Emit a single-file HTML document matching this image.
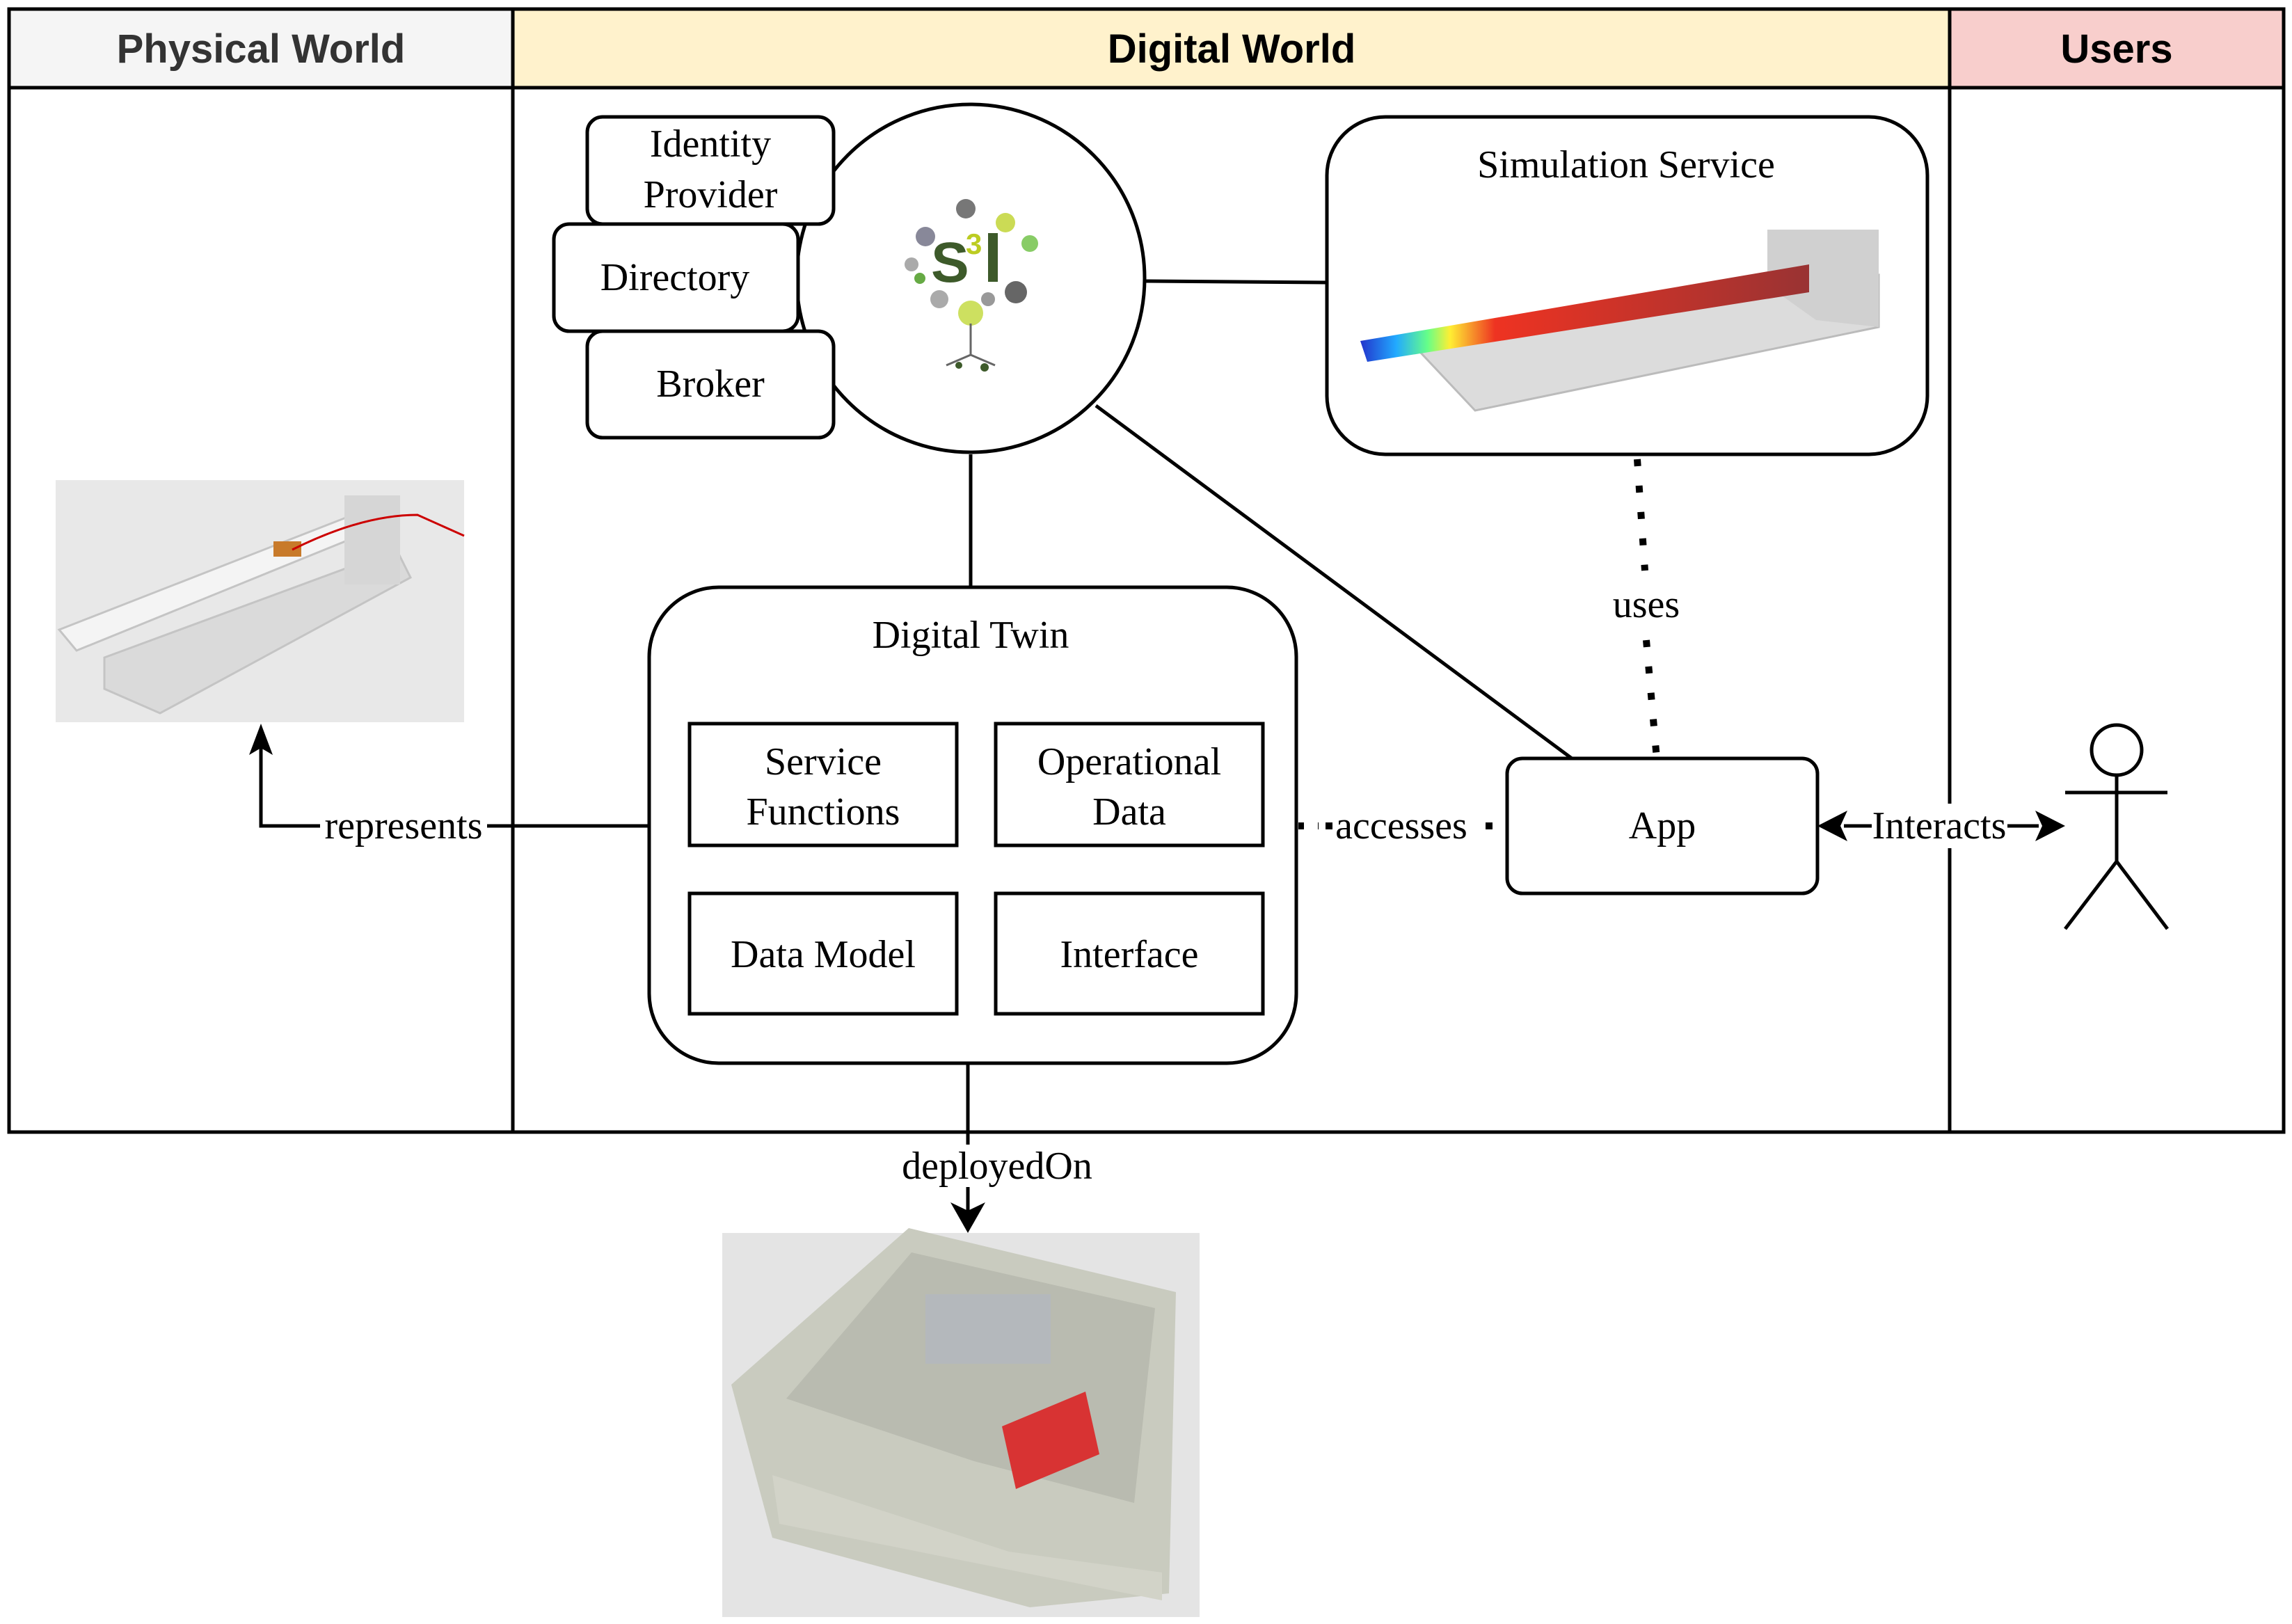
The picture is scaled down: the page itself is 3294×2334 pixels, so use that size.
<!DOCTYPE html>
<html><head><meta charset="utf-8"><style>
html,body{margin:0;padding:0;background:#fff}
svg{display:block}
.s{font-family:"Liberation Serif",serif;font-size:56px;fill:#000}
.h{font-family:"Liberation Sans",sans-serif;font-weight:bold;font-size:58px}
</style></head><body>
<svg width="3294" height="2334" viewBox="0 0 3294 2334" xmlns="http://www.w3.org/2000/svg">
<defs>
<linearGradient id="rb" x1="0" x2="1" y1="0" y2="0">
<stop offset="0" stop-color="#2233cc"/><stop offset="0.08" stop-color="#22aaff"/><stop offset="0.15" stop-color="#66ff88"/><stop offset="0.2" stop-color="#ffee33"/><stop offset="0.3" stop-color="#ee3322"/><stop offset="1" stop-color="#993333"/>
</linearGradient>
</defs>
<rect x="13" y="13" width="724" height="113" fill="#f5f5f5"/>
<rect x="737" y="13" width="2065" height="113" fill="#fff2cc"/>
<rect x="2802" y="13" width="480" height="113" fill="#f8cecc"/>
<text class="h" x="375" y="90" text-anchor="middle" fill="#333">Physical World</text>
<text class="h" x="1770" y="90" text-anchor="middle">Digital World</text>
<text class="h" x="3042" y="90" text-anchor="middle">Users</text>
<g fill="none" stroke="#000" stroke-width="5">
<rect x="13" y="13" width="3269" height="1614"/>
<line x1="13" y1="126" x2="3282" y2="126"/>
<line x1="737" y1="13" x2="737" y2="1627"/>
<line x1="2802" y1="13" x2="2802" y2="1627"/>
</g>
<!-- photo 1 -->
<rect x="80" y="690" width="587" height="348" fill="#e8e8e8"/>
<polygon points="150,945 570,790 590,830 230,1025 150,990" fill="#dadada" stroke="#c4c4c4" stroke-width="3"/>
<polygon points="85,905 520,735 560,752 110,935" fill="#f4f4f4" stroke="#c4c4c4" stroke-width="3"/>
<rect x="495" y="712" width="80" height="128" fill="#d6d6d6"/>
<rect x="393" y="778" width="40" height="22" fill="#c87a2a"/>
<path d="M420 790 Q520 740 600 740 L667 770" stroke="#c00" stroke-width="3" fill="none"/>
<g fill="none" stroke="#000" stroke-width="5">
<line x1="1395" y1="653" x2="1395" y2="844"/>
<line x1="1646" y1="404" x2="1907" y2="406"/>
<line x1="1575" y1="583" x2="2259" y2="1090"/>
<polyline points="933,1187 375,1187 375,1070"/>
<line x1="1391" y1="1528" x2="1391" y2="1645"/>
<line x1="1391" y1="1706" x2="1391" y2="1740"/>
<line x1="2650" y1="1187" x2="2930" y2="1187"/>
<line x1="2353" y1="660" x2="2364" y2="820" stroke-width="10" stroke-dasharray="10,28"/>
<line x1="2366" y1="920" x2="2381" y2="1090" stroke-width="10" stroke-dasharray="10,28"/>
<line x1="1866" y1="1187" x2="1895" y2="1187" stroke-width="10" stroke-dasharray="8,20"/>
<line x1="1905" y1="1187" x2="1915" y2="1187" stroke-width="10"/>
<line x1="2135" y1="1187" x2="2145" y2="1187" stroke-width="10"/>
</g>
<polygon points="375,1040 358,1085 375,1075 392,1085" fill="#000"/>
<polygon points="1391,1772 1366,1728 1391,1740 1416,1728" fill="#000"/>
<polygon points="2612,1187 2655,1165 2645,1187 2655,1209" fill="#000"/>
<polygon points="2968,1187 2925,1165 2935,1187 2925,1209" fill="#000"/>
<rect x="460" y="1155" width="240" height="64" fill="#fff"/>
<text class="s" x="580" y="1205" text-anchor="middle">represents</text>
<text class="s" x="2014" y="1205" text-anchor="middle">accesses</text>
<rect x="2690" y="1155" width="195" height="64" fill="#fff"/>
<text class="s" x="2787" y="1205" text-anchor="middle">Interacts</text>
<text class="s" x="2366" y="887" text-anchor="middle">uses</text>
<text class="s" x="1433" y="1694" text-anchor="middle">deployedOn</text>
<g fill="#fff" stroke="#000" stroke-width="5">
<circle cx="1395" cy="400" r="250"/>
<rect x="844" y="168" width="354" height="154" rx="22"/>
<rect x="796" y="322" width="351" height="154" rx="22"/>
<rect x="844" y="476" width="354" height="153" rx="22"/>
<rect x="1907" y="168" width="863" height="485" rx="84"/>
<rect x="933" y="844" width="930" height="684" rx="100"/>
<rect x="991" y="1040" width="384" height="175"/>
<rect x="1431" y="1040" width="384" height="175"/>
<rect x="991" y="1284" width="384" height="173"/>
<rect x="1431" y="1284" width="384" height="173"/>
<rect x="2166" y="1090" width="446" height="194" rx="22"/>
</g>
<g>
<circle cx="1388" cy="300" r="14" fill="#777"/><circle cx="1445" cy="320" r="14" fill="#cbdb55"/>
<circle cx="1330" cy="340" r="14" fill="#889"/><circle cx="1480" cy="350" r="12" fill="#8c6"/>
<circle cx="1310" cy="380" r="10" fill="#aaa"/><circle cx="1460" cy="420" r="16" fill="#666"/>
<circle cx="1395" cy="450" r="18" fill="#cde060"/><circle cx="1420" cy="430" r="10" fill="#999"/>
<circle cx="1350" cy="430" r="13" fill="#aaa"/><circle cx="1322" cy="400" r="8" fill="#6a4"/>
<text x="1338" y="405" font-family="Liberation Sans,sans-serif" font-weight="bold" font-size="82" fill="#3d5a2a">S</text>
<text x="1388" y="365" font-family="Liberation Sans,sans-serif" font-weight="bold" font-size="42" fill="#bccc22">3</text>
<rect x="1420" y="335" width="14" height="70" fill="#3d5a2a"/>
<path d="M1395 465 L1395 510 M1395 510 L1360 525 M1395 510 L1430 525" stroke="#666" stroke-width="3"/>
<circle cx="1378" cy="525" r="5" fill="#3d5a2a"/><circle cx="1415" cy="528" r="6" fill="#3d5a2a"/>
</g>
<text class="s" x="1021" y="225" text-anchor="middle">Identity</text>
<text class="s" x="1021" y="298" text-anchor="middle">Provider</text>
<text class="s" x="970" y="417" text-anchor="middle">Directory</text>
<text class="s" x="1021" y="570" text-anchor="middle">Broker</text>
<text class="s" x="2337" y="255" text-anchor="middle">Simulation Service</text>
<polygon points="2040,505 2700,395 2700,470 2120,590" fill="#dcdcdc" stroke="#bbb" stroke-width="3"/>
<polygon points="2540,330 2700,330 2700,470 2610,460 2540,410" fill="#d0d0d0"/>
<polygon points="1955,490 2600,380 2600,420 1965,520" fill="url(#rb)"/>
<text class="s" x="1395" y="931" text-anchor="middle">Digital Twin</text>
<text class="s" x="1183" y="1113" text-anchor="middle">Service</text>
<text class="s" x="1183" y="1185" text-anchor="middle">Functions</text>
<text class="s" x="1623" y="1113" text-anchor="middle">Operational</text>
<text class="s" x="1623" y="1185" text-anchor="middle">Data</text>
<text class="s" x="1183" y="1390" text-anchor="middle">Data Model</text>
<text class="s" x="1623" y="1390" text-anchor="middle">Interface</text>
<text class="s" x="2389" y="1205" text-anchor="middle">App</text>
<g fill="none" stroke="#000" stroke-width="5">
<circle cx="3042" cy="1078" r="36"/>
<line x1="3042" y1="1114" x2="3042" y2="1238"/>
<line x1="2968" y1="1139" x2="3115" y2="1139"/>
<polyline points="2968,1335 3042,1238 3115,1335"/>
</g>
<!-- photo 2 -->
<rect x="1038" y="1772" width="686" height="552" fill="#e4e4e4"/>
<polygon points="1051,1990 1306,1765 1690,1857 1680,2290 1480,2310 1110,2210" fill="#c9cbbf"/>
<polygon points="1130,2010 1310,1800 1660,1880 1630,2160 1400,2100" fill="#b9bbb0"/>
<rect x="1330" y="1860" width="180" height="100" fill="#b4b8bc"/>
<polygon points="1440,2050 1560,2000 1580,2090 1460,2140" fill="#d83333"/>
<polygon points="1110,2120 1450,2230 1670,2260 1670,2300 1120,2190" fill="#d2d3c8"/>
</svg>
</body></html>
